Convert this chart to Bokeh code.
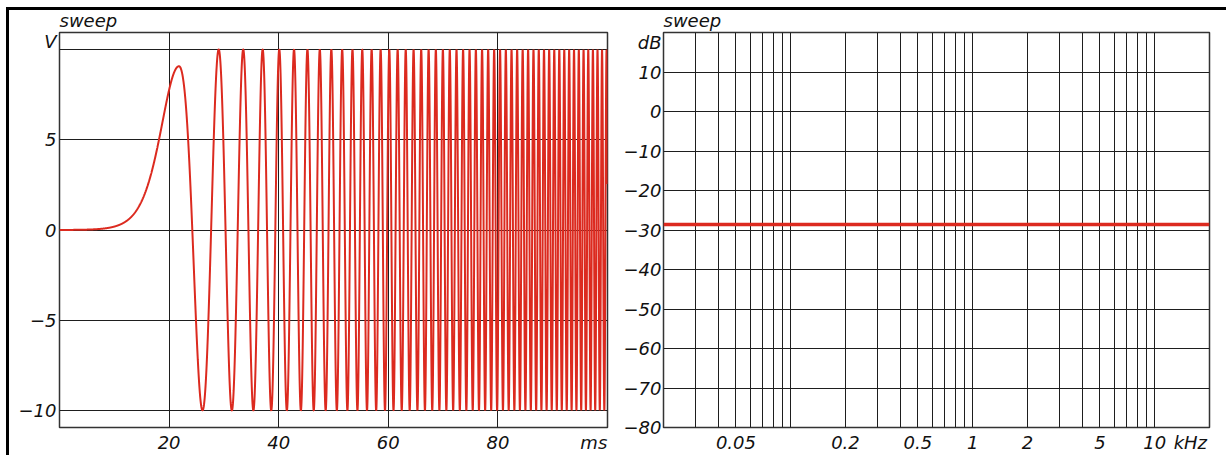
import numpy as np
from jinja2 import Template
from bokeh.plotting import figure
from bokeh.layouts import row
from bokeh.models import FixedTicker, Range1d
from bokeh.embed import file_html
from bokeh.resources import INLINE

# ---------------- data ----------------
# left panel: time signal "sweep"
TIME_LABEL_TICKS = [20, 40, 60, 80]
TIME_GRID = [20, 40, 60, 80]
TIME_UNIT_POS = 97.5          # where the "ms" unit text sits
VOLT_LABEL_TICKS = [-10, -5, 0, 5]
VOLT_GRID = [-10, -5, 0, 5, 10]
VOLT_UNIT_POS = 10.42         # where the "V" unit text sits
# sweep parameters (read from peak / trough positions)
SWEEP_T0_MS = 15.95        # origin of the quadratic phase
SWEEP_C_MS = 8.285         # time scale of the quadratic phase
FIRST_PEAK_MS = 21.8       # first maximum of the signal
FIRST_PEAK_V = 9.07        # height of first maximum
AMPLITUDE_V = 10.0         # amplitude of later oscillations
FADE_WIDTH_MS = 4.5        # width of the fade-in
SETTLE_WIDTH_MS = 2.0      # width of amplitude settling after first peak
T_END_MS = 100.0
SAMPLE_STEP_MS = 0.02

# right panel: spectrum of the sweep
FREQ_KHZ = [0.02, 20.0]
LEVEL_DB = [-28.6, -28.6]
FREQ_LABEL_TICKS = [0.05, 0.2, 0.5, 1, 2, 5, 10]
FREQ_UNIT_POS = 15.7          # where the "kHz" unit text sits
FREQ_GRID = [0.03, 0.04, 0.05, 0.06, 0.07, 0.08, 0.09, 0.1,
             0.2, 0.3, 0.4, 0.5, 0.6, 0.7, 0.8, 0.9, 1,
             2, 3, 4, 5, 6, 7, 8, 9, 10]
DB_LABEL_TICKS = [-80, -70, -60, -50, -40, -30, -20, -10, 0, 10]
DB_GRID = [-70, -60, -50, -40, -30, -20, -10, 0, 10]
DB_UNIT_POS = 17.4            # where the "dB" unit text sits

# ---------------- build signal ----------------
t = np.arange(0.0, T_END_MS + SAMPLE_STEP_MS / 2, SAMPLE_STEP_MS)
phase = np.pi * (((t - SWEEP_T0_MS) / SWEEP_C_MS) ** 2 - 0.5)
phase = np.where(t < FIRST_PEAK_MS, 0.0, phase)
env = np.where(
    t < FIRST_PEAK_MS,
    FIRST_PEAK_V / np.cosh((t - FIRST_PEAK_MS) / FADE_WIDTH_MS) ** 2,
    AMPLITUDE_V - (AMPLITUDE_V - FIRST_PEAK_V) * np.exp(-((t - FIRST_PEAK_MS) / SETTLE_WIDTH_MS) ** 2),
)
volts = env * np.cos(phase)

# ---------------- styling ----------------
RED = "#dc2a1f"
GRID = "#1e1e1e"
FONT = "DejaVu Sans"
FS = "18px"
MINUS = "\u2212"


def fmt(v):
    return ("%g" % v).replace("-", MINUS)


def style(p):
    p.outline_line_color = "#333333"
    p.outline_line_width = 1.5
    p.background_fill_color = "white"
    p.border_fill_alpha = 0
    for ax in (p.xaxis[0], p.yaxis[0]):
        ax.axis_line_color = None
        ax.major_tick_line_color = None
        ax.minor_tick_line_color = None
        ax.major_tick_out = 0
        ax.major_tick_in = 0
        ax.minor_tick_out = 0
        ax.minor_tick_in = 0
        ax.major_label_text_font = FONT
        ax.major_label_text_font_size = FS
        ax.major_label_text_font_style = "italic"
        ax.major_label_text_color = "#111111"
    p.xgrid.grid_line_color = GRID
    p.ygrid.grid_line_color = GRID
    p.xgrid.grid_line_width = 1
    p.ygrid.grid_line_width = 1
    p.title.text = "sweep"
    p.title.align = "left"
    p.title.offset = 0
    p.title.standoff = 4
    p.title.text_font = FONT
    p.title.text_font_size = FS
    p.title.text_font_style = "italic"
    p.title.text_color = "#111111"


# ---------------- left figure ----------------
p1 = figure(frame_width=548, frame_height=395,
            x_range=Range1d(0, 100), y_range=Range1d(-10.94, 10.94),
            output_backend="svg", toolbar_location=None,
            min_border_left=50, min_border_right=13,
            min_border_top=27, min_border_bottom=24,
            margin=(-5, 0, 0, 0))
style(p1)
xt1 = TIME_LABEL_TICKS + [TIME_UNIT_POS]
yt1 = VOLT_LABEL_TICKS + [VOLT_UNIT_POS]
p1.xaxis.ticker = FixedTicker(ticks=xt1)
p1.yaxis.ticker = FixedTicker(ticks=yt1)
ov = {v: fmt(v) for v in TIME_LABEL_TICKS}
ov[TIME_UNIT_POS] = "ms"
p1.xaxis.major_label_overrides = ov
ov = {v: fmt(v) for v in VOLT_LABEL_TICKS}
ov[VOLT_UNIT_POS] = "V"
p1.yaxis.major_label_overrides = ov
p1.xaxis.major_label_standoff = 4
p1.yaxis.major_label_standoff = 3
p1.xgrid.ticker = FixedTicker(ticks=TIME_GRID)
p1.ygrid.ticker = FixedTicker(ticks=VOLT_GRID)
p1.line(t, volts, line_color=RED, line_width=2.0)

# ---------------- right figure ----------------
p2 = figure(frame_width=546, frame_height=395,
            x_axis_type="log",
            x_range=Range1d(0.02, 20), y_range=Range1d(-80, 20),
            output_backend="svg", toolbar_location=None,
            min_border_left=43, min_border_right=17,
            min_border_top=27, min_border_bottom=24,
            margin=(-5, 0, 0, 0))
style(p2)
xt2 = FREQ_LABEL_TICKS + [FREQ_UNIT_POS]
yt2 = DB_LABEL_TICKS + [DB_UNIT_POS]
p2.xaxis.ticker = FixedTicker(ticks=xt2)
p2.yaxis.ticker = FixedTicker(ticks=yt2)
ov = {v: fmt(v) for v in FREQ_LABEL_TICKS}
ov[FREQ_UNIT_POS] = "kHz"
p2.xaxis.major_label_overrides = ov
ov = {v: fmt(v) for v in DB_LABEL_TICKS}
ov[DB_UNIT_POS] = "dB"
p2.yaxis.major_label_overrides = ov
p2.xaxis.major_label_standoff = 4
p2.yaxis.major_label_standoff = 2
p2.xgrid.ticker = FixedTicker(ticks=FREQ_GRID)
p2.ygrid.ticker = FixedTicker(ticks=DB_GRID)
p2.line(FREQ_KHZ, LEVEL_DB, line_color=RED, line_width=3.5)

layout = row(p1, p2, styles={"border-top": "3px solid black",
                             "border-left": "3px solid black",
                             "margin-left": "6px", "margin-top": "7px",
                             "overflow": "visible",
                             "box-sizing": "content-box"})

PAGE = Template("""{% extends base %}
{% block preamble %}<style>html, body { margin: 0; padding: 0; overflow: hidden; }</style>{% endblock %}""")

open("out.html", "w").write(file_html(layout, INLINE, template=PAGE))
